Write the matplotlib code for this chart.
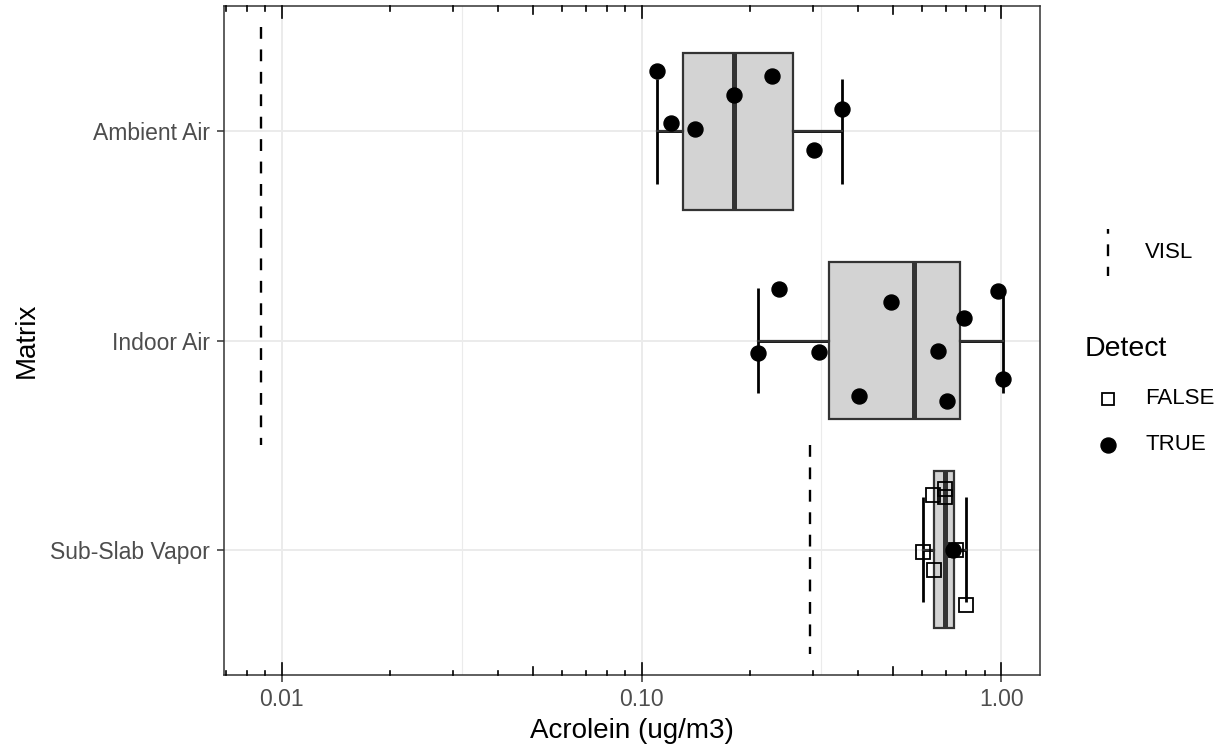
import numpy as np
import matplotlib
matplotlib.use('Agg')
import matplotlib.pyplot as plt
from matplotlib import cbook
from matplotlib.lines import Line2D
from matplotlib.ticker import FixedLocator, NullFormatter, FixedFormatter
from matplotlib.transforms import blended_transform_factory

plt.rcParams['font.family'] = ['Liberation Sans', 'DejaVu Sans']

# data
matrices = ['Ambient Air', 'Indoor Air', 'Sub-Slab Vapor']

ambient = [0.1105, 0.1206, 0.1406, 0.1808, 0.2311, 0.3618, 0.3016]
ambient_detect = [True, True, True, True, True, True, True]
ambient_jitter = [-0.29, -0.04, -0.014, -0.176, -0.267, -0.105, 0.09]

indoor = [0.241, 0.2113, 0.3114, 0.4935, 0.4022, 0.6653, 0.7873, 0.7049, 0.9785, 1.0102]
indoor_detect = [True] * 10
indoor_jitter = [-0.246, 0.062, 0.056, -0.184, 0.267, 0.052, -0.106, 0.287, -0.238, 0.186]

subslab = [0.6045, 0.6457, 0.6499, 0.6957, 0.697, 0.7338, 0.7499, 0.7962]
subslab_detect = [False, False, False, False, False, True, False, False]
subslab_jitter = [0.011, -0.262, 0.099, -0.29, -0.252, 0.0, 0.0, 0.265]

visl = [0.00876, 0.00876, 0.2935]

values = [ambient, indoor, subslab]
detects = [ambient_detect, indoor_detect, subslab_detect]
jitters = [ambient_jitter, indoor_jitter, subslab_jitter]

W, H = 1223, 746
fig = plt.figure(figsize=(W / 100, H / 100), dpi=100)
ax = fig.add_axes([224 / W, 1 - 675 / H, (1040 - 224) / W, (675 - 6) / H])
ax.set_xscale('log')

pos = np.arange(1, len(matrices) + 1)
dark = '#333333'
dash = (0, (5, 4.5))

# box stats computed on the log scale, like ggplot does
stats = []
for v in values:
    s = cbook.boxplot_stats(np.log10(v), whis=1.5)[0]
    for key in ['med', 'q1', 'q3', 'whislo', 'whishi', 'mean']:
        s[key] = 10 ** s[key]
    s['fliers'] = []
    stats.append(s)

# errorbar whiskers (black, drawn under the boxes)
for p, s in zip(pos, stats):
    ax.hlines(p, s['whislo'], s['whishi'], color='black', lw=2.0, zorder=2)
    ax.vlines([s['whislo'], s['whishi']], p - 0.25, p + 0.25, color='black', lw=2.0, zorder=2)

ax.bxp(stats, positions=pos, widths=0.75, orientation='horizontal', patch_artist=True,
       showfliers=False, showcaps=False, manage_ticks=False,
       boxprops=dict(facecolor='#D3D3D3', edgecolor=dark, lw=1.6),
       whiskerprops=dict(color=dark, lw=1.6),
       medianprops=dict(color=dark, lw=3.6, solid_capstyle='butt'),
       zorder=3)

# VISL dashed lines, one per matrix
for p, v in zip(pos, visl):
    ax.vlines(v, p - 0.5, p + 0.5, color='black', lw=1.7, linestyles=dash, zorder=3)

# points
for p, v, d, j in zip(pos, values, detects, jitters):
    for x, det, dy in zip(v, d, j):
        if det:
            ax.plot(x, p + dy, 'o', ms=10.8, color='black', zorder=4)
        else:
            ax.plot(x, p + dy, 's', ms=9.4, mfc='none', mec='black', mew=1.3, zorder=4)

# limits, 5% expansion on log scale
allv = np.log10(np.concatenate([ambient, indoor, subslab, visl]))
lo, hi = allv.min(), allv.max()
pad = 0.05 * (hi - lo)
ax.set_xlim(10 ** (lo - pad), 10 ** (hi + pad))
ax.set_ylim(3.6, 0.4)

# ticks
ax.xaxis.set_major_locator(FixedLocator([0.01, 0.1, 1.0]))
ax.xaxis.set_major_formatter(FixedFormatter(['0.01', '0.10', '1.00']))
ax.xaxis.set_minor_locator(FixedLocator([10 ** -1.5, 10 ** -0.5]))
ax.xaxis.set_minor_formatter(NullFormatter())
ax.set_yticks(pos)
ax.set_yticklabels(matrices)
ax.tick_params(axis='both', which='major', length=5, width=1.1, color=dark,
               labelsize=16.5, labelcolor='#4D4D4D')
ax.tick_params(axis='x', which='major', pad=4)
ax.tick_params(axis='y', which='major', pad=5)
ax.tick_params(axis='x', which='minor', length=0)

# grid
ax.grid(which='major', color='#EBEBEB', lw=1.44, zorder=0)
ax.grid(which='minor', axis='x', color='#EBEBEB', lw=0.8, zorder=0)
ax.set_axisbelow(True)
for sp in ax.spines.values():
    sp.set_color(dark)
    sp.set_linewidth(1.1)

# log ticks on top and bottom inside the panel
trans = blended_transform_factory(ax.transData, ax.transAxes)
ph = 669.0
xmin, xmax = ax.get_xlim()
for d in range(-3, 1):
    for k in range(1, 10):
        x = k * 10.0 ** d
        if x < xmin or x > xmax:
            continue
        L = 12 if k == 1 else (8 if k == 5 else 4.5)
        f = L / ph
        ax.plot([x, x], [0, f], color='black', lw=1.2, transform=trans, clip_on=False, zorder=5)
        ax.plot([x, x], [1 - f, 1], color='black', lw=1.2, transform=trans, clip_on=False, zorder=5)

# axis titles
ax.set_xlabel('Acrolein (ug/m3)', fontsize=20, color='black')
ax.xaxis.set_label_coords(0.5, (675 - 731) / ph)
ax.xaxis.label.set_va('center')
ax.set_ylabel('Matrix', fontsize=20, color='black')
ax.yaxis.set_label_coords((27 - 224) / 816, 0.5)
ax.yaxis.label.set_va('center')

# legends drawn in figure pixel positions
def fx(px):
    return px / W

def fy(py):
    return 1 - py / H

fig.add_artist(Line2D([fx(1108), fx(1108)], [fy(229), fy(276)], color='black', lw=1.7,
                      linestyle=(3, (5, 4.5))))
fig.text(fx(1145), fy(252), 'VISL', fontsize=16, va='center', ha='left')
fig.text(fx(1085), fy(349), 'Detect', fontsize=20.5, va='center', ha='left')
fig.add_artist(Line2D([fx(1108)], [fy(399)], marker='s', ms=9.0, mfc='none', mec='black', mew=1.3))
fig.text(fx(1145), fy(399), 'FALSE', fontsize=16, va='center', ha='left')
fig.add_artist(Line2D([fx(1108)], [fy(445)], marker='o', ms=10.8, color='black'))
fig.text(fx(1145), fy(445), 'TRUE', fontsize=16, va='center', ha='left')

fig.savefig('out.png', dpi=100)
